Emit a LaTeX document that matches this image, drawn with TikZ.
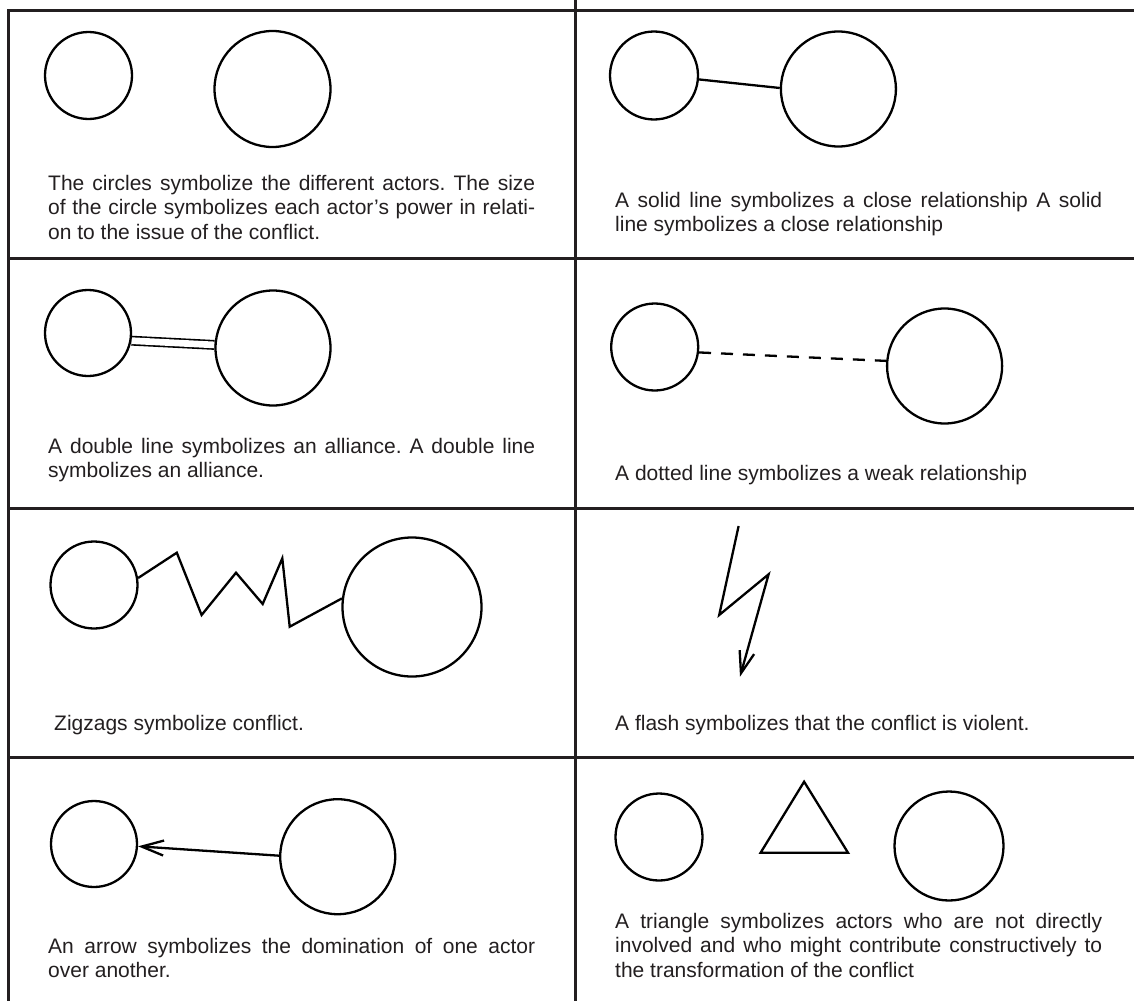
\documentclass[tikz,border=0pt]{standalone}
\usepackage{fontspec}
\setmainfont{Liberation Sans}
\usetikzlibrary{arrows.meta,backgrounds}
\definecolor{ink}{HTML}{231F20}
\newcommand\jline[1]{\makebox[487pt][s]{#1}}
\frenchspacing
\begin{document}
\begin{tikzpicture}[x=1pt,y=-1pt,
  gridline/.style={line width=3pt, draw=ink},
  actor/.style={circle, draw=black, line width=2.3pt, inner sep=0pt, minimum size=#1},
  link/.style={line width=2.3pt, draw=black},
  txt/.style={anchor=base west, inner sep=0pt, text=ink, font=\fontsize{21}{24.5}\selectfont\frenchspacing},
  barb/.style={-{Straight Barb[length=22pt,width=15pt]}}
]
\useasboundingbox (0,0) rectangle (1134,1001);

% grid
\draw[gridline] (1134,10) -- (8,10) -- (8,1001);
\draw[gridline] (575,0) -- (575,1001);
\draw[gridline] (8,258) -- (1134,258);
\draw[gridline] (8,508) -- (1134,508);
\draw[gridline] (8,757) -- (1134,757);

% row 1 left
\node[actor=87pt]  (a) at (88.5,75.5) {};
\node[actor=116pt] (b) at (272.5,89) {};
\node[txt] (ta) at (48,190) {\parbox[t]{487pt}{\jline{The circles symbolize the different actors. The size}\\
\jline{of the circle symbolizes each actor’s power in relati-}\\
on to the issue of the conflict.}};

% row 1 right
\node[actor=88pt]  (c) at (654,75.5) {};
\node[actor=115pt] (d) at (838.4,89) {};
\node[txt] (tb) at (615,207) {\parbox[t]{487pt}{\jline{A solid line symbolizes a close relationship A solid}\\
line symbolizes a close relationship}};

% row 2 left
\node[actor=86pt]  (e) at (88,333) {};
\node[actor=115pt] (f) at (273,348) {};
\node[txt] (tc) at (48,453) {\parbox[t]{487pt}{\jline{A double line symbolizes an alliance. A double line}\\
symbolizes an alliance.}};

% row 2 right
\node[actor=87pt]  (g) at (654.7,347) {};
\node[actor=115pt] (h) at (944.6,366) {};
\node[txt] (td) at (615,480) {A dotted line symbolizes a weak relationship};

% row 3 left
\node[actor=87pt]  (i) at (94,585) {};
\node[actor=139pt] (j) at (412,607) {};
\node[txt] (te) at (54,730) {Zigzags symbolize conflict.};

% row 3 right
\coordinate (fl) at (738.6,526);
\draw[link, barb] (fl) -- (719.2,615) -- (768.6,574.3) -- (740,676.7);
\node[txt] (tf) at (615,730) {A flash symbolizes that the conflict is violent.};

% row 4 left
\node[actor=86pt]  (k) at (94,844) {};
\node[actor=115pt] (l) at (337.7,856.7) {};
\node[txt] (tg) at (48,953) {\parbox[t]{487pt}{\jline{An arrow symbolizes the domination of one actor}\\
over another.}};

% row 4 right
\node[actor=87pt]  (m) at (659,837) {};
\node[actor=109pt] (n) at (949,846) {};
\draw[link] (804.1,781.7) -- (760.6,852.7) -- (848,852.7) -- cycle;
\node[txt] (th) at (615,928) {\parbox[t]{487pt}{\jline{A triangle symbolizes actors who are not directly}\\
\jline{involved and who might contribute constructively to}\\
the transformation of the conflict}};

% connectors (behind the circles)
\begin{scope}[on background layer]
\fill[white] (0,0) rectangle (1134,1001);
\draw[link] (c.-5) -- (d.179);
\draw[line width=1.6pt, double=white, double distance=6.7pt] (e.-10) -- (f.177);
\draw[link, dash pattern=on 12pt off 10pt] (g.-7.5) -- (h.175.7);
\draw[link] (i.9) -- (176.8,552.7) -- (201.6,615) -- (236,572.7) -- (262.7,604)
  -- (282.3,558.3) -- (289.7,626.7) -- (j.173);
\draw[link, barb] (l.179.3) -- (k.-3.5);
\end{scope}
\end{tikzpicture}
\end{document}
